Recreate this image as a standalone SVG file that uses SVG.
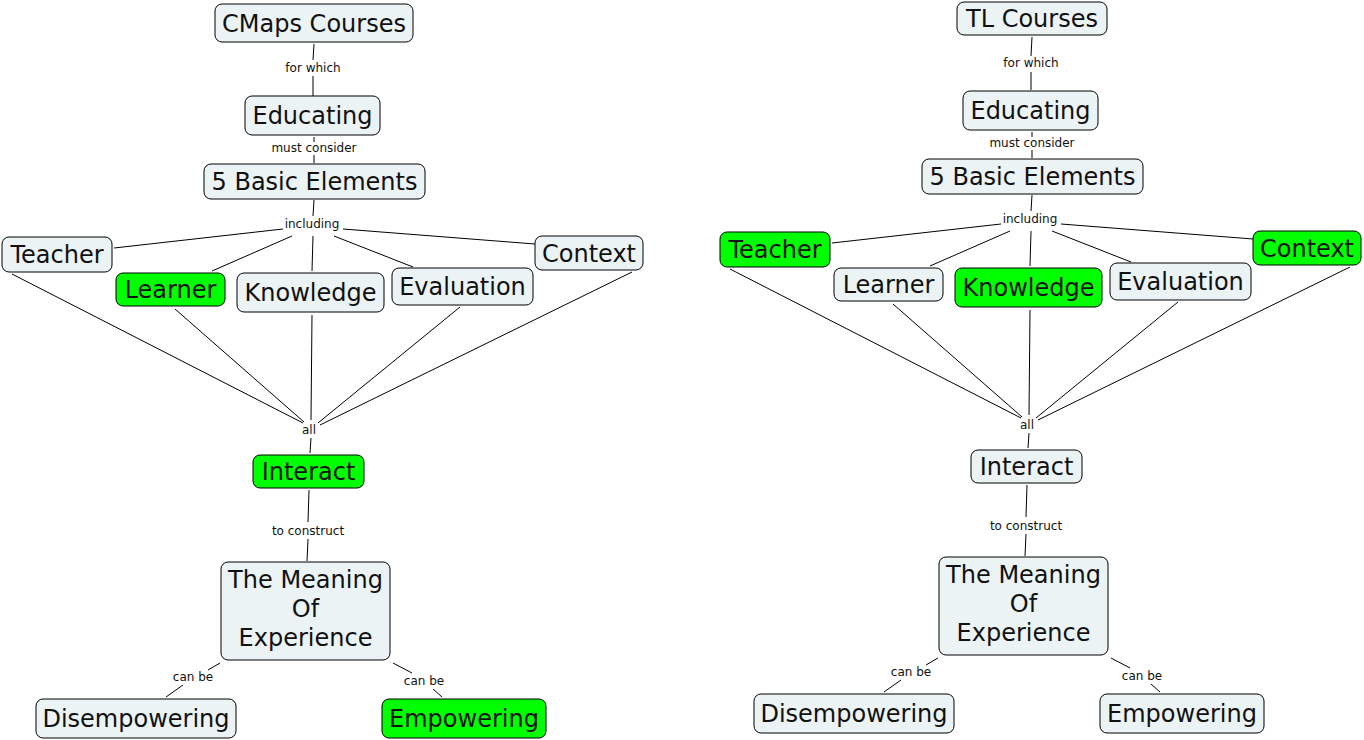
<svg xmlns="http://www.w3.org/2000/svg" width="1364" height="740" viewBox="0 0 1364 740">
<style>
.box{fill:#ECF3F5;stroke:#000;stroke-width:1}
.grn{fill:#00FF00;stroke:#000;stroke-width:1}
.t{font-family:"DejaVu Sans",Verdana,sans-serif;font-size:24px;fill:#111;text-anchor:middle}
.l{font-family:"DejaVu Sans",Verdana,sans-serif;font-size:12px;fill:#111;text-anchor:middle}
.c line{stroke:#000;stroke-width:1}
</style>
<rect width="1364" height="740" fill="#fff"/>
<g class="c" id="connectors">
<line x1="314" y1="44" x2="313" y2="60"/><line x1="313" y1="76" x2="313" y2="96"/>
<line x1="314" y1="137" x2="314" y2="142"/><line x1="314" y1="155" x2="314" y2="163"/>
<line x1="314" y1="200" x2="313" y2="216"/>
<line x1="283" y1="229" x2="114" y2="248"/>
<line x1="292" y1="236" x2="212" y2="271"/>
<line x1="313" y1="236" x2="312" y2="271"/>
<line x1="334" y1="236" x2="413" y2="267"/>
<line x1="343" y1="229" x2="535" y2="244"/>
<line x1="12" y1="274" x2="303" y2="423"/>
<line x1="175" y1="309" x2="304" y2="422"/>
<line x1="312" y1="315" x2="311" y2="420"/>
<line x1="460" y1="307" x2="318" y2="423"/>
<line x1="632" y1="272" x2="320" y2="425"/>
<line x1="311" y1="438" x2="310" y2="453"/>
<line x1="309" y1="490" x2="308" y2="522"/><line x1="308" y1="539" x2="307" y2="561"/>
<line x1="220" y1="663" x2="208" y2="670"/><line x1="183" y1="685" x2="166" y2="697"/>
<line x1="393" y1="663" x2="412" y2="673"/><line x1="433" y1="689" x2="442" y2="697"/>

<line x1="1032" y1="37" x2="1031" y2="56"/><line x1="1031" y1="72" x2="1031" y2="90"/>
<line x1="1032" y1="132" x2="1032" y2="137"/><line x1="1032" y1="150" x2="1032" y2="158"/>
<line x1="1032" y1="195" x2="1031" y2="211"/>
<line x1="1001" y1="224" x2="832" y2="243"/>
<line x1="1010" y1="231" x2="930" y2="266"/>
<line x1="1031" y1="231" x2="1030" y2="266"/>
<line x1="1052" y1="231" x2="1131" y2="262"/>
<line x1="1061" y1="224" x2="1253" y2="239"/>
<line x1="730" y1="269" x2="1021" y2="418"/>
<line x1="893" y1="304" x2="1022" y2="417"/>
<line x1="1030" y1="310" x2="1029" y2="415"/>
<line x1="1178" y1="302" x2="1036" y2="418"/>
<line x1="1350" y1="267" x2="1038" y2="420"/>
<line x1="1029" y1="433" x2="1028" y2="448"/>
<line x1="1027" y1="485" x2="1026" y2="517"/><line x1="1026" y1="534" x2="1025" y2="556"/>
<line x1="938" y1="658" x2="926" y2="665"/><line x1="901" y1="680" x2="884" y2="692"/>
<line x1="1111" y1="658" x2="1130" y2="668"/><line x1="1151" y1="684" x2="1160" y2="692"/>
</g>
<g id="linklabels">
<text class="l" x="313" y="72">for which</text>
<text class="l" x="314" y="152">must consider</text>
<text class="l" x="312" y="228">including</text>
<text class="l" x="309" y="434">all</text>
<text class="l" x="308" y="535">to construct</text>
<text class="l" x="193" y="681">can be</text>
<text class="l" x="424" y="685">can be</text>
<text class="l" x="1031" y="67">for which</text>
<text class="l" x="1032" y="147">must consider</text>
<text class="l" x="1030" y="223">including</text>
<text class="l" x="1027" y="429">all</text>
<text class="l" x="1026" y="530">to construct</text>
<text class="l" x="911" y="676">can be</text>
<text class="l" x="1142" y="680">can be</text>
</g>
<g id="L_cmaps"><rect class="box" x="215" y="4" width="198" height="38" rx="7"/><text class="t" x="314" y="31.5">CMaps Courses</text></g>
<g id="L_educating"><rect class="box" x="245" y="96" width="135" height="39" rx="7"/><text class="t" x="312.5" y="124">Educating</text></g>
<g id="L_elements"><rect class="box" x="204" y="164" width="221" height="35" rx="7"/><text class="t" x="314.5" y="190">5 Basic Elements</text></g>
<g id="L_teacher"><rect class="box" x="2" y="237" width="110" height="35" rx="7"/><text class="t" x="57" y="263">Teacher</text></g>
<g id="L_learner"><rect class="grn" x="116" y="273" width="109" height="33" rx="7"/><text class="t" x="170.5" y="298">Learner</text></g>
<g id="L_knowledge"><rect class="box" x="237" y="273" width="147" height="39" rx="7"/><text class="t" x="310.5" y="301">Knowledge</text></g>
<g id="L_evaluation"><rect class="box" x="392" y="268" width="141" height="37" rx="7"/><text class="t" x="462.5" y="295">Evaluation</text></g>
<g id="L_context"><rect class="box" x="535" y="236" width="108" height="34" rx="7"/><text class="t" x="589" y="262">Context</text></g>
<g id="L_interact"><rect class="grn" x="253" y="455" width="111" height="33" rx="7"/><text class="t" x="308.5" y="480">Interact</text></g>
<g id="L_meaning"><rect class="box" x="221" y="562" width="169" height="98" rx="7"/><text class="t" x="305.5" y="588">The Meaning</text><text class="t" x="305.5" y="617">Of</text><text class="t" x="305.5" y="646">Experience</text></g>
<g id="L_disempowering"><rect class="box" x="36" y="699" width="200" height="39" rx="7"/><text class="t" x="136" y="727">Disempowering</text></g>
<g id="L_empowering"><rect class="grn" x="382" y="699" width="164" height="39" rx="7"/><text class="t" x="464" y="727">Empowering</text></g>

<g id="R_tl"><rect class="box" x="957" y="2" width="150" height="33" rx="7"/><text class="t" x="1032" y="27">TL Courses</text></g>
<g id="R_educating"><rect class="box" x="963" y="91" width="135" height="39" rx="7"/><text class="t" x="1030.5" y="119">Educating</text></g>
<g id="R_elements"><rect class="box" x="922" y="159" width="221" height="35" rx="7"/><text class="t" x="1032.5" y="185">5 Basic Elements</text></g>
<g id="R_teacher"><rect class="grn" x="720" y="232" width="110" height="35" rx="7"/><text class="t" x="775" y="258">Teacher</text></g>
<g id="R_learner"><rect class="box" x="834" y="268" width="109" height="33" rx="7"/><text class="t" x="888.5" y="293">Learner</text></g>
<g id="R_knowledge"><rect class="grn" x="955" y="268" width="147" height="39" rx="7"/><text class="t" x="1028.5" y="296">Knowledge</text></g>
<g id="R_evaluation"><rect class="box" x="1110" y="263" width="141" height="37" rx="7"/><text class="t" x="1180.5" y="290">Evaluation</text></g>
<g id="R_context"><rect class="grn" x="1253" y="231" width="108" height="34" rx="7"/><text class="t" x="1307" y="257">Context</text></g>
<g id="R_interact"><rect class="box" x="971" y="450" width="111" height="33" rx="7"/><text class="t" x="1026.5" y="475">Interact</text></g>
<g id="R_meaning"><rect class="box" x="939" y="557" width="169" height="98" rx="7"/><text class="t" x="1023.5" y="583">The Meaning</text><text class="t" x="1023.5" y="612">Of</text><text class="t" x="1023.5" y="641">Experience</text></g>
<g id="R_disempowering"><rect class="box" x="754" y="694" width="200" height="39" rx="7"/><text class="t" x="854" y="722">Disempowering</text></g>
<g id="R_empowering"><rect class="box" x="1100" y="694" width="164" height="39" rx="7"/><text class="t" x="1182" y="722">Empowering</text></g>
</svg>
